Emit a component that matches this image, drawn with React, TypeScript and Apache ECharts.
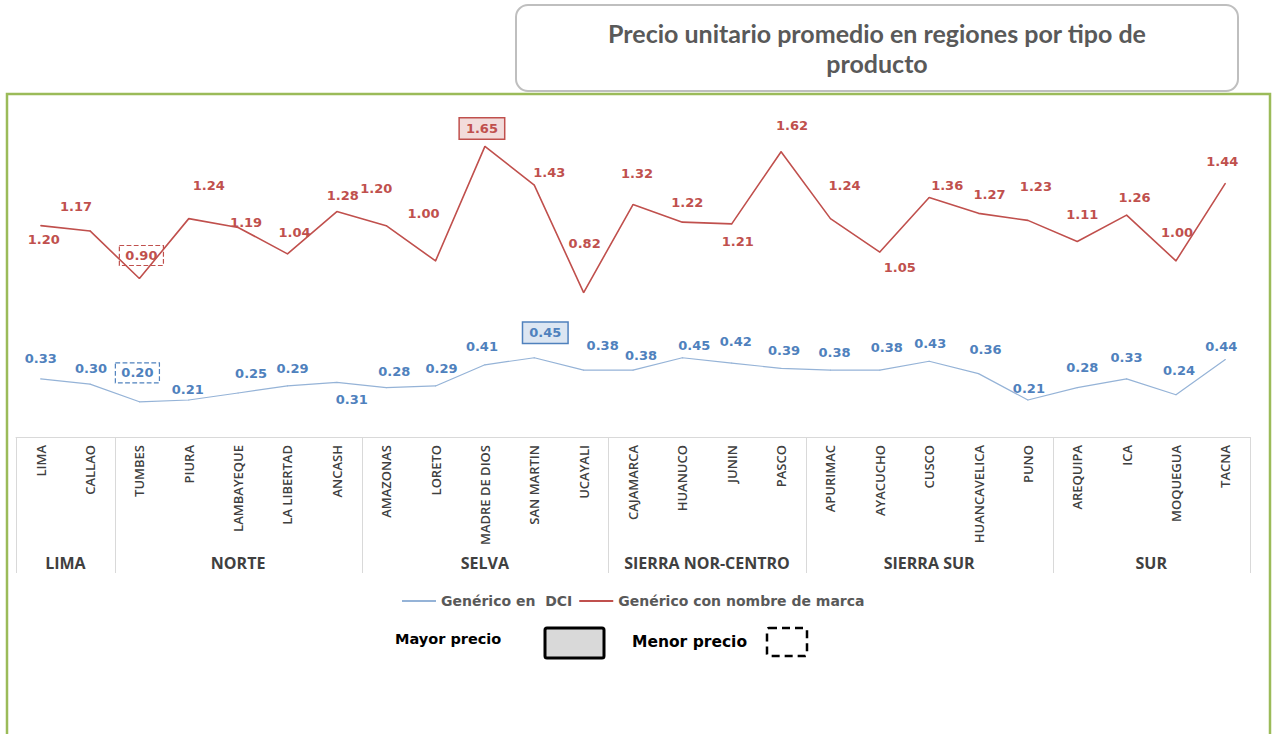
import React, { useEffect, useRef } from 'react';
import * as echarts from 'echarts';

const regions = [
  'LIMA', 'CALLAO',
  'TUMBES', 'PIURA', 'LAMBAYEQUE', 'LA LIBERTAD', 'ANCASH',
  'AMAZONAS', 'LORETO', 'MADRE DE DIOS', 'SAN MARTIN', 'UCAYALI',
  'CAJAMARCA', 'HUANUCO', 'JUNIN', 'PASCO',
  'APURIMAC', 'AYACUCHO', 'CUSCO', 'HUANCAVELICA', 'PUNO',
  'AREQUIPA', 'ICA', 'MOQUEGUA', 'TACNA',
];
const groups = ['LIMA', 'NORTE', 'SELVA', 'SIERRA NOR-CENTRO', 'SIERRA SUR', 'SUR'];
const groupSizes = [2, 5, 5, 4, 5, 4];

const dciValues = [
  0.33, 0.30,
  0.20, 0.21, 0.25, 0.29, 0.31,
  0.28, 0.29, 0.41, 0.45, 0.38,
  0.38, 0.45, 0.42, 0.39,
  0.38, 0.38, 0.43, 0.36, 0.21,
  0.28, 0.33, 0.24, 0.44,
];
const marcaValues = [
  1.20, 1.17,
  0.90, 1.24, 1.19, 1.04, 1.28,
  1.20, 1.00, 1.65, 1.43, 0.82,
  1.32, 1.22, 1.21, 1.62,
  1.24, 1.05, 1.36, 1.27, 1.23,
  1.11, 1.26, 1.00, 1.44,
];

// highlighted points (Mayor precio / Menor precio)
const dciMaxIndex = 10;
const dciMinIndex = 2;
const marcaMaxIndex = 9;
const marcaMinIndex = 2;

// label placement relative to each point [dx, dy]
const dciLabelOffsets = [
  [0, -20], [1, -16],
  [-2, -29], [-1, -11], [13, -19], [5, -17], [15, 17],
  [8, -16], [6, -17], [-3, -18], [11, -25], [19, -25],
  [8, -15], [12, -12], [4, -22], [3, -18],
  [4, -18], [7, -23], [1, -18], [7, -24], [1, -12],
  [5, -20], [0, -21], [3, -24], [-4, -13],
];
const marcaLabelOffsets = [
  [3, 14], [-14, -24],
  [2, -23], [20, -33], [8, -5], [7, -21], [6, -16],
  [-10, -37], [-12, -47], [-3, -18], [15, -13], [1, -49],
  [4, -31], [5, -20], [6, 18], [11, -26],
  [14, -33], [20, 15], [18, -12], [11, -19], [8, -34],
  [5, -27], [8, -18], [1, -28], [-3, -22],
];

const BLUE_LINE = '#95b3d7';
const BLUE_TEXT = '#4f81bd';
const RED = '#c0504d';

export default function App() {
  const ref = useRef<HTMLDivElement>(null);

  useEffect(() => {
    const chart = echarts.init(ref.current!, null, { renderer: 'svg' });
    const labelFont = { fontFamily: 'DejaVu Sans', fontSize: 13, fontWeight: 'bold' as const };

    const mkData = (
      vals: number[], offs: number[][], color: string, maxI: number, minI: number, fill: string,
    ) => vals.map((v, i) => {
      const label: any = { offset: offs[i] };
      if (i === maxI) {
        Object.assign(label, { backgroundColor: fill, borderColor: color, borderWidth: 1.5, padding: [4, 6, 3, 6] });
      }
      if (i === minI) {
        Object.assign(label, { borderColor: color, borderWidth: 1.2, borderType: 'dashed', padding: [4, 6, 3, 6] });
      }
      return { value: v, label };
    });

    chart.setOption({
      animation: false,
      grid: { left: 16, right: 25, top: 120, bottom: 297 },
      xAxis: {
        type: 'category',
        data: regions,
        boundaryGap: true,
        axisLine: { lineStyle: { color: '#d9d9d9', width: 1 } },
        axisTick: { show: false },
        axisLabel: {
          rotate: 90, margin: 8, interval: 0,
          fontFamily: 'Open Sans', fontSize: 13, fontWeight: 600, color: '#404040',
        },
      },
      yAxis: { type: 'value', min: 0, max: 1.8, show: false },
      legend: {
        left: 397,
        top: 589,
        itemWidth: 34,
        itemHeight: 2,
        itemGap: 7,
        textStyle: { color: '#595959', fontFamily: 'DejaVu Sans', fontSize: 14, fontWeight: 'bold' },
        data: [
          { name: 'Genérico en  DCI', icon: 'rect' },
          { name: 'Genérico con nombre de marca', icon: 'rect' },
        ],
      },
      series: [
        {
          name: 'Genérico en  DCI',
          type: 'line',
          data: mkData(dciValues, dciLabelOffsets, BLUE_TEXT, dciMaxIndex, dciMinIndex, '#dce6f2'),
          symbol: 'circle',
          symbolSize: 1,
          lineStyle: { color: BLUE_LINE, width: 1.2 },
          itemStyle: { color: BLUE_LINE },
          label: {
            show: true, position: 'inside', color: BLUE_TEXT, ...labelFont,
            formatter: (p: any) => Number(p.value).toFixed(2),
          },
        },
        {
          name: 'Genérico con nombre de marca',
          type: 'line',
          data: mkData(marcaValues, marcaLabelOffsets, RED, marcaMaxIndex, marcaMinIndex, '#f2dcdb'),
          symbol: 'circle',
          symbolSize: 1,
          lineStyle: { color: RED, width: 1.6 },
          itemStyle: { color: RED },
          label: {
            show: true, position: 'inside', color: RED, ...labelFont,
            formatter: (p: any) => Number(p.value).toFixed(2),
          },
        },
      ],
    });

    const c0 = chart.convertToPixel({ xAxisIndex: 0 }, 0) as number;
    const c1 = chart.convertToPixel({ xAxisIndex: 0 }, 1) as number;
    const bw = c1 - c0;
    const axisY = chart.convertToPixel({ yAxisIndex: 0 }, 0) as number;
    const start = c0 - bw / 2;

    const graphics: any[] = [];
    graphics.push({
      type: 'rect', z: 0, silent: true,
      shape: { x: 7, y: 94, width: 1263, height: 700 },
      style: { fill: 'none', stroke: '#9bbb59', lineWidth: 2.5 },
    });
    graphics.push({
      type: 'rect', z: 10,
      shape: { x: 516, y: 5, width: 722, height: 86, r: 12 },
      style: { fill: '#ffffff', stroke: '#bfbfbf', lineWidth: 2 },
    });
    graphics.push({
      type: 'text', z: 11,
      x: 877, y: 33,
      style: {
        text: 'Precio unitario promedio en regiones por tipo de',
        align: 'center', verticalAlign: 'middle',
        font: 'bold 25px Lato', fill: '#595959',
      },
    });
    graphics.push({
      type: 'text', z: 11,
      x: 877, y: 63,
      style: {
        text: 'producto',
        align: 'center', verticalAlign: 'middle',
        font: 'bold 25px Lato', fill: '#595959',
      },
    });

    let k = 0;
    const bounds = [0];
    groupSizes.forEach((s) => { k += s; bounds.push(k); });
    bounds.forEach((b) => {
      const x = Math.round(start + b * bw) + 0.5;
      graphics.push({
        type: 'line', z: 5,
        shape: { x1: x, y1: axisY, x2: x, y2: axisY + 136 },
        style: { stroke: '#d9d9d9', lineWidth: 1 },
      });
    });
    groups.forEach((g, i) => {
      const cx = start + ((bounds[i] + bounds[i + 1]) / 2) * bw;
      graphics.push({
        type: 'text', z: 5,
        x: cx, y: axisY + 126,
        style: {
          text: g, align: 'center', verticalAlign: 'middle',
          font: 'bold 16px "Open Sans"', fill: '#404040',
        },
      });
    });

    // key: Mayor precio / Menor precio
    graphics.push({
      type: 'text', z: 5, x: 395, y: 639,
      style: { text: 'Mayor precio', verticalAlign: 'middle', font: 'bold 14.5px "DejaVu Sans"', fill: '#000000' },
    });
    graphics.push({
      type: 'rect', z: 5,
      shape: { x: 545, y: 628, width: 59, height: 30, r: 2 },
      style: { fill: '#d9d9d9', stroke: '#000000', lineWidth: 3 },
    });
    graphics.push({
      type: 'text', z: 5, x: 632, y: 642,
      style: { text: 'Menor precio', verticalAlign: 'middle', font: 'bold 15.5px "DejaVu Sans"', fill: '#000000' },
    });
    graphics.push({
      type: 'rect', z: 5,
      shape: { x: 767, y: 628, width: 40, height: 28, r: 2 },
      style: { fill: 'none', stroke: '#000000', lineWidth: 2.5, lineDash: [8, 5] },
    });

    chart.setOption({ graphic: graphics });

    return () => chart.dispose();
  }, []);

  return (
    <div
      ref={ref}
      style={{ position: 'absolute', left: 0, top: 0, width: 1275, height: 734, background: '#ffffff' }}
    />
  );
}
